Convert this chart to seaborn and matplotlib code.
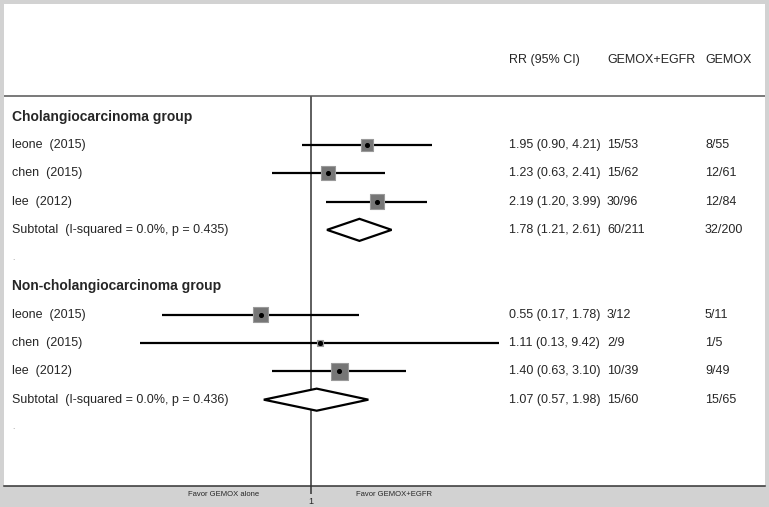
import numpy as np
import pandas as pd
import matplotlib
matplotlib.use('AGG')
from matplotlib import pyplot as plt
import seaborn as sns

# Data
groups = ['Cholangiocarcinoma group', 'Non-cholangiocarcinoma group']
studies = ['leone  (2015)', 'chen  (2015)', 'lee  (2012)']

chol_rr = [1.95, 1.23, 2.19]
chol_lo = [0.90, 0.63, 1.20]
chol_hi = [4.21, 2.41, 3.99]
chol_egfr = ['15/53', '15/62', '30/96']
chol_gemox = ['8/55', '12/61', '12/84']
chol_weight = [28, 35, 37]
chol_sub = [1.78, 1.21, 2.61]
chol_sub_n = ['60/211', '32/200']
chol_sub_label = 'Subtotal  (I-squared = 0.0%, p = 0.435)'

non_rr = [0.55, 1.11, 1.40]
non_lo = [0.17, 0.13, 0.63]
non_hi = [1.78, 9.42, 3.10]
non_egfr = ['3/12', '2/9', '10/39']
non_gemox = ['5/11', '1/5', '9/49']
non_weight = [40, 7, 53]
non_sub = [1.07, 0.57, 1.98]
non_sub_n = ['15/60', '15/65']
non_sub_label = 'Subtotal  (I-squared = 0.0%, p = 0.436)'

header = ['RR (95% CI)', 'GEMOX+EGFR', 'GEMOX']
favor_left = 'Favor GEMOX alone'
favor_right = 'Favor GEMOX+EGFR'

# build a row table (row index runs top to bottom)
rows = []
subs = []
r = 0
for g, rr, lo, hi, ne, nc, w, sub, subn, sublab in [
        (groups[0], chol_rr, chol_lo, chol_hi, chol_egfr, chol_gemox, chol_weight, chol_sub, chol_sub_n, chol_sub_label),
        (groups[1], non_rr, non_lo, non_hi, non_egfr, non_gemox, non_weight, non_sub, non_sub_n, non_sub_label)]:
    grow = r
    r += 1
    for i in range(len(studies)):
        rows.append(dict(group=g, row=r, study=studies[i], rr=rr[i], lo=lo[i], hi=hi[i],
                         egfr=ne[i], gemox=nc[i], weight=w[i]))
        r += 1
    subs.append(dict(group=g, grow=grow, row=r, label=sublab, rr=sub[0], lo=sub[1], hi=sub[2],
                     egfr=subn[0], gemox=subn[1]))
    r += 2
df = pd.DataFrame(rows)
sub_df = pd.DataFrame(subs)

sns.set_theme(style='white')
plt.rcParams['font.family'] = ['Liberation Sans', 'DejaVu Sans']

fig = plt.figure(figsize=(7.69, 5.07), dpi=100)
fig.patch.set_facecolor('#d2d2d2')
ax = fig.add_axes([4 / 769, 21 / 507, 761 / 769, 482 / 507])
ax.set_facecolor('white')

ax.set_xscale('log')
ax.set_xlim(np.exp(-307 / 84), np.exp(454 / 84))
ax.set_ylim(13.05, -3.98)

# null line and header rule
ax.vlines(1, -0.73, 13.05, color='#333333', lw=1.1)
ax.axhline(-0.73, color='#555555', lw=1.1)

# confidence intervals
ax.hlines(df['row'], df['lo'], df['hi'], color='black', lw=1.6, zorder=2)

# weighted squares
side_pt = 2.35 * np.sqrt(df['weight']) * 0.72
sns.scatterplot(x=df['rr'], y=df['row'], marker='s', s=side_pt ** 2, color='#767676',
                edgecolor='#9a9a9a', linewidth=0.8, ax=ax, zorder=3, legend=False)
ax.scatter(df['rr'], df['row'], s=7, color='black', zorder=4)

# pooled diamonds
for _, s in sub_df.iterrows():
    ax.fill([s['lo'], s['rr'], s['hi'], s['rr'], s['lo']],
            [s['row'], s['row'] - 0.39, s['row'], s['row'] + 0.39, s['row']],
            facecolor='white', edgecolor='black', lw=1.6, zorder=3)

# text columns
trans = ax.get_yaxis_transform()
x_lab, x_rr, x_e, x_c = 8 / 761, 505 / 761, 603 / 761, 701 / 761
for txt, xx in zip(header, [x_rr, x_e, x_c]):
    ax.text(xx, -2.0, txt, transform=trans, ha='left', va='center', fontsize=9)
for _, s in df.iterrows():
    ax.text(x_lab, s['row'], s['study'], transform=trans, ha='left', va='center', fontsize=9)
    ax.text(x_rr, s['row'], f"{s['rr']:.2f} ({s['lo']:.2f}, {s['hi']:.2f})", transform=trans,
            ha='left', va='center', fontsize=9)
    ax.text(x_e, s['row'], s['egfr'], transform=trans, ha='left', va='center', fontsize=9)
    ax.text(x_c, s['row'], s['gemox'], transform=trans, ha='left', va='center', fontsize=9)
for _, s in sub_df.iterrows():
    ax.text(x_lab, s['grow'], s['group'], transform=trans, ha='left', va='center',
            fontsize=10, fontweight='bold')
    ax.text(x_lab, s['row'], s['label'], transform=trans, ha='left', va='center', fontsize=9)
    ax.text(x_rr, s['row'], f"{s['rr']:.2f} ({s['lo']:.2f}, {s['hi']:.2f})", transform=trans,
            ha='left', va='center', fontsize=9)
    ax.text(x_e, s['row'], s['egfr'], transform=trans, ha='left', va='center', fontsize=9)
    ax.text(x_c, s['row'], s['gemox'], transform=trans, ha='left', va='center', fontsize=9)
    ax.text(x_lab, s['row'] + 1, '.', transform=trans, ha='left', va='center',
            fontsize=6, color='#888888')

# axis styling
for sp in ['top', 'left', 'right']:
    ax.spines[sp].set_visible(False)
ax.spines['bottom'].set_color('#333333')
ax.spines['bottom'].set_linewidth(1.1)
ax.set_yticks([])
ax.set_xticks([1])
ax.set_xticklabels(['1'])
ax.minorticks_off()
ax.tick_params(axis='x', bottom=True, length=6, width=1.1, color='#333333',
               direction='out', pad=2, labelsize=6.5)
ax.set_xlabel('')
ax.set_ylabel('')

fig.text(224 / 769, 1 - 495 / 507, favor_left, ha='center', va='center', fontsize=5.5)
fig.text(394 / 769, 1 - 495 / 507, favor_right, ha='center', va='center', fontsize=5.5)

plt.savefig('out.png', dpi=100, facecolor=fig.get_facecolor())
